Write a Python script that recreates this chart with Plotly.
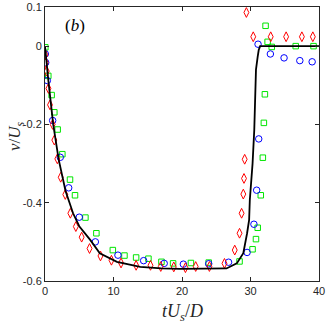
import plotly.graph_objects as go

# solid curve
line_t = [0, 0.25, 0.5, 1.2, 2, 3, 4.1, 5, 6.6, 8, 10.5, 13.9, 17, 19.7, 24, 26.5, 28,
          28.95, 29.5, 29.8, 29.9, 30.3, 30.55, 30.65, 30.8, 31.05, 31.2, 31.4, 40]
line_v = [0, -0.05, -0.09, -0.2, -0.29, -0.37, -0.427, -0.46, -0.495, -0.529, -0.551, -0.564,
          -0.568, -0.569, -0.569, -0.568, -0.555, -0.529, -0.478, -0.444, -0.393, -0.3, -0.214,
          -0.138, -0.06, -0.027, -0.01, 0, 0]

# red diamonds
red_t = [0.05, 0.1, 0.25, 0.5, 0.73, 1.12, 1.36, 1.8, 2.29, 2.96, 3.7, 4.5, 5.35, 6.5, 8.1,
         9.7, 11.1, 13.3, 15.4, 16.9, 18.8, 20.5, 22.0, 24.0, 26.2, 27.7, 28.4, 28.7, 28.95,
         29.05, 29.15, 29.4, 30.4, 32.95, 35.2, 37.5, 39.1]
red_v = [-0.022, -0.042, -0.064, -0.108, -0.15, -0.2, -0.24, -0.288, -0.335, -0.379, -0.427,
         -0.461, -0.488, -0.517, -0.536, -0.547, -0.554, -0.56, -0.56, -0.563, -0.564, -0.566,
         -0.563, -0.563, -0.555, -0.521, -0.478, -0.427, -0.378, -0.338, -0.289, 0.086, 0.024,
         0.024, 0.024, 0.024, 0.024]

# blue circles
blue_t = [0.05, 0.1, 0.34, 1.12, 2.23, 3.46, 5.0, 7.35, 10.65, 14.4, 17.4, 20.2, 23.9, 26.8,
          29.5, 30.5, 30.9, 31.2, 31.1, 32.9, 34.9, 37.2, 39.0]
blue_v = [-0.02, -0.042, -0.088, -0.19, -0.284, -0.362, -0.437, -0.5, -0.534, -0.548, -0.555,
          -0.557, -0.556, -0.552, -0.527, -0.455, -0.368, -0.237, 0.005, -0.02, -0.03, -0.037,
          -0.04]

# green squares
green_t = [0.05, 0.48, 0.97, 1.36, 1.85, 2.53, 3.65, 4.38, 5.9, 7.5, 9.9, 11.6, 13.3, 15.1,
           17.0, 18.7, 21.3, 23.9, 28.4, 30.3, 30.8, 31.05, 31.5, 31.8, 31.95, 32.1, 32.2,
           32.5, 33.1, 36.6, 39.2]
green_v = [-0.003, -0.076, -0.125, -0.169, -0.213, -0.276, -0.341, -0.381, -0.438, -0.478,
           -0.521, -0.535, -0.54, -0.543, -0.551, -0.555, -0.554, -0.553, -0.55, -0.519, -0.493,
           -0.464, -0.381, -0.285, -0.196, -0.123, 0.052, 0.011, -0.002, 0, 0]

x_ticks = [0, 10, 20, 30, 40]
y_ticks = [0.1, 0, -0.2, -0.4, -0.6]
y_tick_text = ['0.1', '0', '-0.2', '-0.4', '-0.6']

fig = go.Figure()
fig.add_trace(go.Scatter(x=green_t, y=green_v, mode='markers',
                         marker=dict(symbol='square-open', size=5.5, color='#00e600',
                                     line=dict(width=1))))
fig.add_trace(go.Scatter(x=blue_t, y=blue_v, mode='markers',
                         marker=dict(symbol='circle-open', size=6.5, color='#0000ff',
                                     line=dict(width=1))))
fig.add_trace(go.Scatter(x=red_t, y=red_v, mode='markers',
                         marker=dict(symbol='diamond-tall-open', size=7, color='#ff0000',
                                     line=dict(width=1))))
fig.add_trace(go.Scatter(x=line_t, y=line_v, mode='lines',
                         line=dict(color='black', width=1.8)))

axis_common = dict(showline=True, mirror='ticks', linecolor='#262626', linewidth=1,
                   ticks='inside', ticklen=4, tickcolor='#262626', showgrid=False,
                   zeroline=False, automargin=False,
                   tickfont=dict(family='Liberation Sans', size=11, color='#262626'))

fig.update_xaxes(range=[0, 40], tickvals=x_ticks, **axis_common)
fig.update_yaxes(range=[-0.6, 0.1], tickvals=y_ticks, ticktext=y_tick_text, **axis_common)

# axis titles as annotations so they sit where the reference has them
fig.add_annotation(x=0.5, y=-0.115, xref='paper', yref='paper', xanchor='center',
                   yanchor='middle', showarrow=False,
                   text='<i>tU</i><sub><i>s</i></sub>/<i>D</i>',
                   font=dict(family='Liberation Serif', size=18, color='#262626'))
fig.add_annotation(x=-0.105, y=0.53, xref='paper', yref='paper', xanchor='center',
                   yanchor='middle', showarrow=False, textangle=-90,
                   text='<i>v</i>/<i>U</i><sub><i>s</i></sub>',
                   font=dict(family='Liberation Serif', size=17, color='#262626'))

fig.add_annotation(x=4.4, y=0.054, text='(<i>b</i>)', showarrow=False,
                   font=dict(family='Liberation Serif', size=17, color='black'))

fig.update_layout(width=327, height=323, showlegend=False,
                  plot_bgcolor='white', paper_bgcolor='white',
                  margin=dict(l=45, r=8, t=7, b=42))

# drop the browser's default body margin so the figure fills the window
fig.write_html("out.html", config={'displayModeBar': False},
               post_script="document.body.style.margin='0px';")
